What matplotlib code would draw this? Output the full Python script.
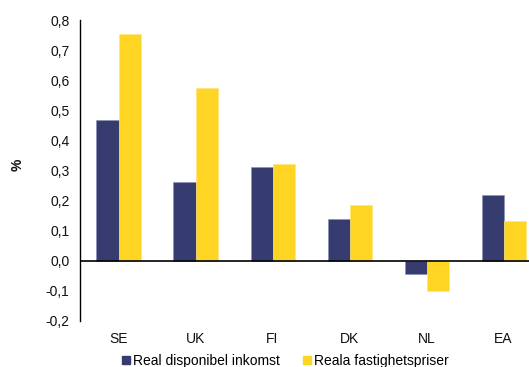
import matplotlib
matplotlib.use("Agg")
import matplotlib.pyplot as plt
import numpy as np
from matplotlib.patches import Rectangle

plt.rcParams['font.family'] = ['Liberation Sans', 'DejaVu Sans']

categories = ["SE", "UK", "FI", "DK", "NL", "EA"]
income = [0.467, 0.262, 0.311, 0.139, -0.044, 0.217]
house_prices = [0.752, 0.573, 0.320, 0.186, -0.101, 0.133]
series_names = ["Real disponibel inkomst", "Reala fastighetspriser"]
y_ticks = [-0.2, -0.1, 0.0, 0.1, 0.2, 0.3, 0.4, 0.5, 0.6, 0.7, 0.8]

navy = "#363C70"
yellow = "#FFD523"

fig = plt.figure(figsize=(5.29, 3.67), dpi=100)
ax = fig.add_axes([80 / 529, 1 - 321 / 367, 449 / 529, 301 / 367])

x = np.arange(len(categories))
w = 0.286
ax.bar(x - w / 2, income, width=w, color=navy, edgecolor="#8A8FB5", linewidth=0.4, label=series_names[0])
ax.bar(x + w / 2, house_prices, width=w, color=yellow, edgecolor="#FFE57A", linewidth=0.4, label=series_names[1])

ax.set_xlim(-0.5, 5.33)
ax.set_ylim(-0.2, 0.8)
ax.axhline(0, color="black", linewidth=1.2)

ax.set_yticks(y_ticks)
ax.set_yticklabels([f"{v:.1f}".replace(".", ",") for v in y_ticks], fontsize=10, color="#111111")
ax.tick_params(axis="y", length=0, pad=7.5)
ax.set_xticks(x)
ax.set_xticklabels(categories, fontsize=10, color="#111111")
ax.tick_params(axis="x", length=0, pad=8)

for side in ["top", "right", "bottom"]:
    ax.spines[side].set_visible(False)
ax.spines["left"].set_color("black")
ax.spines["left"].set_linewidth(1.0)

fig.text(18 / 529, 1 - 165 / 367, "%", rotation=90, fontsize=10, fontweight="bold",
         ha="center", va="center", color="#111111")

handles = [Rectangle((0, 0), 1, 1, color=navy), Rectangle((0, 0), 1, 1, color=yellow)]
fig.legend(handles, series_names, loc="center", bbox_to_anchor=(285.5 / 529, 1 - 361 / 367),
           ncol=2, frameon=False, fontsize=10, handlelength=0.55, handleheight=0.55,
           handletextpad=0.22, columnspacing=1.7, borderaxespad=0, borderpad=0)

fig.savefig("out.png", dpi=100)
